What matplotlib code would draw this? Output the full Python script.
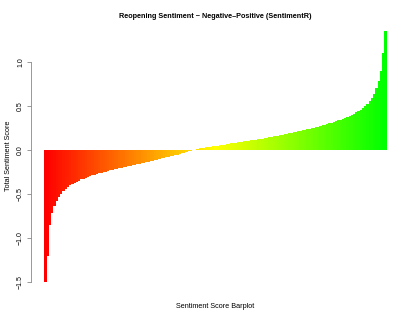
import numpy as np
import matplotlib
matplotlib.use("Agg")
import matplotlib.pyplot as plt
from matplotlib.colors import LinearSegmentedColormap

# sorted sentiment scores
neg_scores = [-1.50, -1.20, -0.85, -0.72, -0.64, -0.58, -0.53, -0.50, -0.47, -0.44,
              -0.42, -0.40, -0.39, -0.375, -0.36, -0.35, -0.335, -0.325, -0.315, -0.305,
              -0.297, -0.289, -0.282, -0.275, -0.268, -0.261, -0.254, -0.247, -0.240, -0.234,
              -0.228, -0.222, -0.216, -0.210, -0.204, -0.198, -0.193, -0.188, -0.182, -0.176,
              -0.170, -0.164, -0.158, -0.152, -0.146, -0.140, -0.134, -0.128, -0.122, -0.116,
              -0.110, -0.104, -0.097, -0.091, -0.085, -0.079, -0.073, -0.067, -0.060, -0.053,
              -0.046, -0.039, -0.032, -0.025, -0.018, -0.011, -0.004]
pos_scores = [0.003, 0.010, 0.016, 0.021, 0.025, 0.029, 0.033, 0.037, 0.041, 0.045,
              0.049, 0.053, 0.057, 0.061, 0.065, 0.069, 0.073, 0.077, 0.081, 0.085,
              0.089, 0.093, 0.097, 0.101, 0.105, 0.109, 0.113, 0.117, 0.121, 0.125,
              0.129, 0.134, 0.138, 0.143, 0.148, 0.153, 0.158, 0.163, 0.168, 0.173,
              0.178, 0.183, 0.188, 0.193, 0.198, 0.204, 0.210, 0.216, 0.222, 0.228,
              0.234, 0.240, 0.246, 0.252, 0.258, 0.264, 0.271, 0.278, 0.285, 0.292,
              0.300, 0.308, 0.316, 0.325, 0.334, 0.344, 0.354, 0.364, 0.375, 0.386,
              0.398, 0.411, 0.425, 0.440, 0.457, 0.476, 0.498, 0.522, 0.552, 0.590,
              0.640, 0.700, 0.780, 0.900, 1.10, 1.35]
scores = neg_scores + pos_scores
y_ticks = [-1.5, -1.0, -0.5, 0.0, 0.5, 1.0]

plt.rcParams['font.family'] = ['Liberation Sans', 'DejaVu Sans']

n = len(scores)
x = 0.7 + 1.2 * np.arange(n)
cmap = LinearSegmentedColormap.from_list("ryg", ["#ff0000", "#ffff00", "#00ff00"])
cols = cmap(np.linspace(0, 1, n))

fig = plt.figure(figsize=(4.15, 3.21), dpi=100)
ax = fig.add_axes([31 / 415, 1 - 292 / 321, (400 - 31) / 415, (292 - 21) / 321])
ax.bar(x, scores, width=1.2, color=cols, edgecolor="none", linewidth=0)

xr = 1.2 * n - 0.2
ax.set_xlim(0.2 - 0.04 * xr, 1.2 * n + 0.04 * xr)
lo, hi = min(scores), max(scores)
ax.set_ylim(lo - 0.04 * (hi - lo), hi + 0.04 * (hi - lo))

for s in ["top", "right", "bottom"]:
    ax.spines[s].set_visible(False)
ax.spines["left"].set_bounds(-1.5, 1.0)
ax.spines["left"].set_color("#888888")
ax.spines["left"].set_linewidth(0.6)
ax.set_xticks([])
ax.set_yticks(y_ticks)
ax.set_yticklabels([f"{t:.1f}".replace("-", "\u2212") for t in y_ticks],
                   rotation=90, va="center", fontsize=5)
ax.tick_params(axis="y", length=3, width=0.6, color="#888888", pad=2)

fig.text(215 / 415, 1 - 16 / 321, "Reopening Sentiment ~ Negative\u2013Positive (SentimentR)",
         ha="center", va="center", fontsize=5.2, fontweight="bold")
fig.text(215 / 415, 1 - 306 / 321, "Sentiment Score Barplot",
         ha="center", va="center", fontsize=5.2)
fig.text(8 / 415, 1 - 156 / 321, "Total Sentiment Score",
         ha="center", va="center", fontsize=5.2, rotation=90)

fig.savefig("out.png", dpi=100)
